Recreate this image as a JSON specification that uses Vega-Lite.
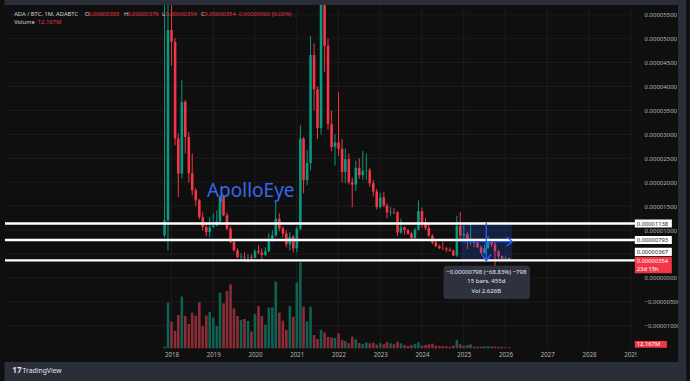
{
"$schema":"https://vega.github.io/schema/vega-lite/v6.json",
"width":690,"height":381,"autosize":{"type":"none"},"padding":0,
"background":"#0f0f0f",
"config":{"view":{"stroke":null},"font":"Noto Sans","text":{"font":"Noto Sans"}},
"datasets":{
"candles":[
{"t":"2017-11-01","o":891,"h":6600,"l":850,"c":1205,"v":137},
{"t":"2017-12-01","o":1205,"h":6600,"l":577,"c":5180,"v":3740},
{"t":"2018-01-01","o":5180,"h":6600,"l":4430,"c":4935,"v":2184},
{"t":"2018-02-01","o":4935,"h":5010,"l":2770,"c":2914,"v":1447},
{"t":"2018-03-01","o":2914,"h":3020,"l":1690,"c":2182,"v":2730},
{"t":"2018-04-01","o":2182,"h":4130,"l":2080,"c":3680,"v":4232},
{"t":"2018-05-01","o":3680,"h":3720,"l":2600,"c":2948,"v":2648},
{"t":"2018-06-01","o":2948,"h":3050,"l":2000,"c":2190,"v":1993},
{"t":"2018-07-01","o":2190,"h":2600,"l":1730,"c":1833,"v":2921},
{"t":"2018-08-01","o":1833,"h":1880,"l":1500,"c":1623,"v":2675},
{"t":"2018-09-01","o":1623,"h":1650,"l":1226,"c":1274,"v":3767},
{"t":"2018-10-01","o":1274,"h":1370,"l":996,"c":1065,"v":1829},
{"t":"2018-11-01","o":1065,"h":1160,"l":870,"c":960,"v":2675},
{"t":"2018-12-01","o":960,"h":1270,"l":850,"c":1058,"v":2976},
{"t":"2019-01-01","o":1058,"h":1350,"l":1050,"c":1100,"v":2512},
{"t":"2019-02-01","o":1100,"h":1410,"l":1080,"c":1184,"v":1829},
{"t":"2019-03-01","o":1184,"h":1730,"l":1120,"c":1692,"v":4559},
{"t":"2019-04-01","o":1692,"h":1730,"l":1290,"c":1310,"v":3686},
{"t":"2019-05-01","o":1310,"h":1370,"l":996,"c":1031,"v":4696},
{"t":"2019-06-01","o":1031,"h":1080,"l":724,"c":751,"v":5242},
{"t":"2019-07-01","o":751,"h":790,"l":556,"c":577,"v":3276},
{"t":"2019-08-01","o":577,"h":620,"l":410,"c":437,"v":2648},
{"t":"2019-09-01","o":437,"h":520,"l":368,"c":445,"v":2321},
{"t":"2019-10-01","o":445,"h":535,"l":347,"c":431,"v":2402},
{"t":"2019-11-01","o":431,"h":494,"l":326,"c":436,"v":2239},
{"t":"2019-12-01","o":436,"h":494,"l":368,"c":420,"v":1365},
{"t":"2020-01-01","o":420,"h":600,"l":410,"c":560,"v":2812},
{"t":"2020-02-01","o":560,"h":690,"l":500,"c":530,"v":3467},
{"t":"2020-03-01","o":530,"h":620,"l":368,"c":480,"v":2648},
{"t":"2020-04-01","o":480,"h":640,"l":452,"c":560,"v":1938},
{"t":"2020-05-01","o":560,"h":933,"l":540,"c":800,"v":3331},
{"t":"2020-06-01","o":800,"h":996,"l":760,"c":891,"v":3358},
{"t":"2020-07-01","o":891,"h":1588,"l":850,"c":1240,"v":5460},
{"t":"2020-08-01","o":1240,"h":1351,"l":975,"c":1038,"v":2921},
{"t":"2020-09-01","o":1038,"h":1080,"l":850,"c":927,"v":2266},
{"t":"2020-10-01","o":927,"h":996,"l":640,"c":700,"v":1502},
{"t":"2020-11-01","o":700,"h":960,"l":577,"c":860,"v":3467},
{"t":"2020-12-01","o":860,"h":900,"l":535,"c":620,"v":2594},
{"t":"2021-01-01","o":620,"h":1080,"l":535,"c":1030,"v":5405},
{"t":"2021-02-01","o":1030,"h":3191,"l":996,"c":2914,"v":7043},
{"t":"2021-03-01","o":2914,"h":2941,"l":1770,"c":2042,"v":3413},
{"t":"2021-04-01","o":2042,"h":2670,"l":1937,"c":2400,"v":2211},
{"t":"2021-05-01","o":2400,"h":5054,"l":2251,"c":4657,"v":3413},
{"t":"2021-06-01","o":4657,"h":4900,"l":3500,"c":3940,"v":1092},
{"t":"2021-07-01","o":3940,"h":4000,"l":2900,"c":3130,"v":764},
{"t":"2021-08-01","o":3130,"h":6600,"l":3000,"c":5900,"v":1502},
{"t":"2021-09-01","o":5900,"h":6600,"l":4300,"c":4850,"v":1310},
{"t":"2021-10-01","o":4850,"h":5000,"l":3100,"c":3214,"v":928},
{"t":"2021-11-01","o":3214,"h":3500,"l":2650,"c":2737,"v":874},
{"t":"2021-12-01","o":2737,"h":3000,"l":2350,"c":2829,"v":846},
{"t":"2022-01-01","o":2829,"h":3880,"l":2550,"c":2701,"v":1229},
{"t":"2022-02-01","o":2701,"h":2900,"l":2000,"c":2215,"v":683},
{"t":"2022-03-01","o":2215,"h":2700,"l":1980,"c":2481,"v":601},
{"t":"2022-04-01","o":2481,"h":2600,"l":1950,"c":2000,"v":410},
{"t":"2022-05-01","o":2000,"h":2100,"l":1480,"c":1950,"v":956},
{"t":"2022-06-01","o":1950,"h":2450,"l":1820,"c":2300,"v":737},
{"t":"2022-07-01","o":2300,"h":2500,"l":2070,"c":2146,"v":437},
{"t":"2022-08-01","o":2146,"h":2650,"l":2050,"c":2240,"v":355},
{"t":"2022-09-01","o":2240,"h":2600,"l":2050,"c":2250,"v":491},
{"t":"2022-10-01","o":2250,"h":2300,"l":1900,"c":1980,"v":410},
{"t":"2022-11-01","o":1980,"h":2050,"l":1700,"c":1805,"v":464},
{"t":"2022-12-01","o":1805,"h":1860,"l":1430,"c":1481,"v":300},
{"t":"2023-01-01","o":1481,"h":1780,"l":1450,"c":1686,"v":437},
{"t":"2023-02-01","o":1686,"h":1800,"l":1480,"c":1512,"v":328},
{"t":"2023-03-01","o":1512,"h":1560,"l":1250,"c":1369,"v":519},
{"t":"2023-04-01","o":1369,"h":1480,"l":1300,"c":1380,"v":410},
{"t":"2023-05-01","o":1380,"h":1460,"l":1330,"c":1370,"v":328},
{"t":"2023-06-01","o":1370,"h":1400,"l":880,"c":951,"v":546},
{"t":"2023-07-01","o":951,"h":1240,"l":920,"c":1060,"v":410},
{"t":"2023-08-01","o":1060,"h":1080,"l":900,"c":1002,"v":273},
{"t":"2023-09-01","o":1002,"h":1020,"l":900,"c":927,"v":191},
{"t":"2023-10-01","o":927,"h":960,"l":800,"c":837,"v":273},
{"t":"2023-11-01","o":837,"h":1050,"l":820,"c":1007,"v":355},
{"t":"2023-12-01","o":1007,"h":1620,"l":990,"c":1395,"v":491},
{"t":"2024-01-01","o":1395,"h":1470,"l":1050,"c":1151,"v":218},
{"t":"2024-02-01","o":1151,"h":1250,"l":1000,"c":1046,"v":273},
{"t":"2024-03-01","o":1046,"h":1150,"l":860,"c":884,"v":328},
{"t":"2024-04-01","o":884,"h":920,"l":700,"c":742,"v":382},
{"t":"2024-05-01","o":742,"h":780,"l":640,"c":666,"v":218},
{"t":"2024-06-01","o":666,"h":700,"l":600,"c":622,"v":191},
{"t":"2024-07-01","o":622,"h":750,"l":580,"c":619,"v":191},
{"t":"2024-08-01","o":619,"h":650,"l":540,"c":594,"v":164},
{"t":"2024-09-01","o":594,"h":640,"l":550,"c":568,"v":137},
{"t":"2024-10-01","o":568,"h":600,"l":460,"c":470,"v":218},
{"t":"2024-11-01","o":470,"h":1300,"l":440,"c":1089,"v":683},
{"t":"2024-12-01","o":1089,"h":1380,"l":800,"c":888,"v":328},
{"t":"2025-01-01","o":888,"h":1100,"l":800,"c":918,"v":218},
{"t":"2025-02-01","o":918,"h":960,"l":600,"c":759,"v":273},
{"t":"2025-03-01","o":759,"h":1170,"l":680,"c":800,"v":328},
{"t":"2025-04-01","o":800,"h":830,"l":640,"c":732,"v":137},
{"t":"2025-05-01","o":732,"h":800,"l":630,"c":640,"v":137},
{"t":"2025-06-01","o":640,"h":680,"l":500,"c":523,"v":137},
{"t":"2025-07-01","o":523,"h":700,"l":500,"c":622,"v":164},
{"t":"2025-08-01","o":622,"h":880,"l":600,"c":758,"v":191},
{"t":"2025-09-01","o":758,"h":800,"l":650,"c":702,"v":137},
{"t":"2025-10-01","o":702,"h":780,"l":230,"c":557,"v":137},
{"t":"2025-11-01","o":557,"h":580,"l":400,"c":454,"v":137},
{"t":"2025-12-01","o":454,"h":470,"l":380,"c":400,"v":109},
{"t":"2026-01-01","o":400,"h":450,"l":380,"c":412,"v":82},
{"t":"2026-02-01","o":412,"h":430,"l":340,"c":355,"v":82},
{"t":"2026-03-01","o":355,"h":376,"l":354,"c":354,"v":12.167}
],
"gridP":[{"p":-1000},{"p":-500},{"p":0},{"p":500},{"p":1000},{"p":1500},{"p":2000},{"p":2500},{"p":3000},{"p":3500},{"p":4000},{"p":4500},{"p":5000},{"p":5500}],
"gridT":[{"t":"2018-01-01"},{"t":"2019-01-01"},{"t":"2020-01-01"},{"t":"2021-01-01"},{"t":"2022-01-01"},{"t":"2023-01-01"},{"t":"2024-01-01"},{"t":"2025-01-01"},{"t":"2026-01-01"},{"t":"2027-01-01"},{"t":"2028-01-01"},{"t":"2029-01-01"}],
"levels":[{"p":1138},{"p":793},{"p":367}],
"measure":[{"t":"2024-12-01","t2":"2026-03-01","p":361,"p2":1159}],
"arrows":[
{"id":"vs","k":0,"t":"2025-07-17","p":1159},{"id":"vs","k":1,"t":"2025-07-17","p":361},
{"id":"vh","k":0,"t":"2025-06-05","p":500},{"id":"vh","k":1,"t":"2025-07-17","p":361},{"id":"vh","k":2,"t":"2025-08-28","p":500},
{"id":"hs","k":0,"t":"2024-12-01","p":760},{"id":"hs","k":1,"t":"2026-03-01","p":760},
{"id":"hh","k":0,"t":"2026-01-13","p":854},{"id":"hh","k":1,"t":"2026-03-01","p":760},{"id":"hh","k":2,"t":"2026-01-13","p":666}],
"tipbox":[{"t":"2024-07-08","t2":"2026-08-03","p":257,"p2":-439}],
"tiptext":[{"t":"2025-07-17","p":132,"s":"−0.00000798 (−68.83%) −798"},{"t":"2025-07-17","p":-73,"s":"15 bars, 455d"},{"t":"2025-07-17","p":-272,"s":"Vol 2.626B"}],
"tags":[{"p":1138,"lo":1055,"hi":1222,"s":"0.00001138"},{"p":793,"lo":710,"hi":877,"s":"0.00000793"},{"p":550,"lo":460,"hi":633,"s":"0.00000367"}],
"legendGray":[{"t":"2014-03-26","p":5515,"s":"ADA / BTC, 1M, ADABTC"},{"t":"2015-12-04","p":5515,"s":"O"},{"t":"2016-11-11","p":5515,"s":"H"},{"t":"2017-10-09","p":5515,"s":"L"},{"t":"2018-09-16","p":5515,"s":"C"},{"t":"2014-03-26","p":5337,"s":"Volume"}],
"legendRed":[{"t":"2016-01-01","p":5515,"s":"0.00000355"},{"t":"2016-12-09","p":5515,"s":"0.00000376"},{"t":"2017-11-08","p":5515,"s":"0.00000354"},{"t":"2018-10-15","p":5515,"s":"0.00000354"},{"t":"2019-08-12","p":5515,"s":"0.00000000 (0.00%)"},{"t":"2014-10-19","p":5337,"s":"12.167M"}]
},
"layer":[
{"data":{"name":"gridP"},"mark":{"type":"rule","color":"#1c1c1e","strokeWidth":1},
 "encoding":{
  "x":{"datum":{"year":2014,"month":1,"date":5,"utc":true},"type":"temporal","scale":{"type":"utc","domain":[1388880000000,1902873600000],"nice":false},"title":null,
   "axis":{"orient":"bottom","offset":-32,"values":[{"year":2018,"month":1,"date":1,"utc":true},{"year":2019,"month":1,"date":1,"utc":true},{"year":2020,"month":1,"date":1,"utc":true},{"year":2021,"month":1,"date":1,"utc":true},{"year":2022,"month":1,"date":1,"utc":true},{"year":2023,"month":1,"date":1,"utc":true},{"year":2024,"month":1,"date":1,"utc":true},{"year":2025,"month":1,"date":1,"utc":true},{"year":2026,"month":1,"date":1,"utc":true},{"year":2027,"month":1,"date":1,"utc":true},{"year":2028,"month":1,"date":1,"utc":true},{"year":2029,"month":1,"date":1,"utc":true}],
   "format":"%Y","labelPadding":2,"labelFontSize":6.2,"labelColor":"#b2b5be","labelFont":"Noto Sans","domain":false,"ticks":false,"grid":false,"labelFlush":false,"labelOverlap":false,"title":null}},
  "x2":{"datum":{"year":2029,"month":2,"date":5,"utc":true}},
  "y":{"field":"p","type":"quantitative","scale":{"domain":[-2152,5807],"nice":false,"zero":false},"title":null,
   "axis":{"orient":"right","offset":-47,"values":[-1000,-500,0,1000,1500,2000,2500,3000,3500,4000,4500,5000,5500],"labelExpr":"format(datum.value/1e8,'.8f')","labelAlign":"left","labelBaseline":"middle","labelPadding":1,"labelFontSize":6,"labelColor":"#b2b5be","labelFont":"Noto Sans","domain":false,"ticks":false,"grid":false,"labelOverlap":false,"title":null}}
 }},
{"data":{"name":"gridT"},"mark":{"type":"rule","color":"#1c1c1e","strokeWidth":1},
 "encoding":{
  "x":{"field":"t","type":"temporal","scale":{"type":"utc","domain":[1388880000000,1902873600000],"nice":false},"title":null},
  "y":{"datum":5703,"type":"quantitative","scale":{"domain":[-2152,5807],"nice":false,"zero":false},"axis":null},
  "y2":{"datum":-1483}
 }},
{"data":{"name":"candles"},"mark":{"type":"bar","size":2.6,"orient":"vertical"},
 "encoding":{
  "x":{"field":"t","type":"temporal","scale":{"type":"utc","domain":[1388880000000,1902873600000],"nice":false},"title":null},
  "y":{"field":"v","type":"quantitative","scale":{"domain":[-2678,28526],"nice":false,"zero":false},"axis":null},
  "color":{"condition":{"test":"datum.c >= datum.o","value":"#0f6152"},"value":"#8a2d37"}
 }},
{"data":{"name":"candles"},"mark":{"type":"rule","strokeWidth":1,"clip":true},
 "encoding":{
  "x":{"field":"t","type":"temporal","scale":{"type":"utc","domain":[1388880000000,1902873600000],"nice":false},"title":null},
  "y":{"field":"l","type":"quantitative","scale":{"domain":[-2152,5807],"nice":false,"zero":false},"axis":null},
  "y2":{"field":"h"},
  "color":{"condition":{"test":"datum.c >= datum.o","value":"#089981"},"value":"#f23645"}
 }},
{"data":{"name":"candles"},"mark":{"type":"bar","size":2.6,"orient":"vertical","clip":true},
 "encoding":{
  "x":{"field":"t","type":"temporal","scale":{"type":"utc","domain":[1388880000000,1902873600000],"nice":false},"title":null},
  "y":{"field":"o","type":"quantitative","scale":{"domain":[-2152,5807],"nice":false,"zero":false},"axis":null},
  "y2":{"field":"c"},
  "color":{"condition":{"test":"datum.c >= datum.o","value":"#089981"},"value":"#f23645"}
 }},
{"data":{"name":"measure"},"mark":{"type":"rect","color":"#2962ff","opacity":0.2},
 "encoding":{
  "x":{"field":"t","type":"temporal","scale":{"type":"utc","domain":[1388880000000,1902873600000],"nice":false},"title":null},
  "x2":{"field":"t2"},
  "y":{"field":"p","type":"quantitative","scale":{"domain":[-2152,5807],"nice":false,"zero":false},"axis":null},
  "y2":{"field":"p2"}
 }},
{"data":{"name":"levels"},"mark":{"type":"rule","color":"#ffffff","strokeWidth":2.4},
 "encoding":{
  "x":{"datum":{"year":2014,"month":1,"date":5,"utc":true},"type":"temporal","scale":{"type":"utc","domain":[1388880000000,1902873600000],"nice":false},"title":null},
  "x2":{"datum":{"year":2029,"month":2,"date":5,"utc":true}},
  "y":{"field":"p","type":"quantitative","scale":{"domain":[-2152,5807],"nice":false,"zero":false},"axis":null}
 }},
{"data":{"name":"arrows"},"mark":{"type":"line","color":"#2962ff","strokeWidth":1.3},
 "encoding":{
  "x":{"field":"t","type":"temporal","scale":{"type":"utc","domain":[1388880000000,1902873600000],"nice":false},"title":null},
  "y":{"field":"p","type":"quantitative","scale":{"domain":[-2152,5807],"nice":false,"zero":false},"axis":null},
  "detail":{"field":"id"},
  "order":{"field":"k"}
 }},
{"data":{"values":[{"t":"2018-11-07","p":1700,"s":"ApolloEye"}]},"mark":{"type":"text","align":"left","baseline":"alphabetic","fontSize":19,"color":"#3467ee","font":"Noto Sans"},
 "encoding":{
  "x":{"field":"t","type":"temporal","scale":{"type":"utc","domain":[1388880000000,1902873600000],"nice":false},"title":null},
  "y":{"field":"p","type":"quantitative","scale":{"domain":[-2152,5807],"nice":false,"zero":false},"axis":null},
  "text":{"field":"s"}
 }},
{"data":{"name":"tipbox"},"mark":{"type":"rect","color":"#2e323e","cornerRadius":3},
 "encoding":{
  "x":{"field":"t","type":"temporal","scale":{"type":"utc","domain":[1388880000000,1902873600000],"nice":false},"title":null},
  "x2":{"field":"t2"},
  "y":{"field":"p","type":"quantitative","scale":{"domain":[-2152,5807],"nice":false,"zero":false},"axis":null},
  "y2":{"field":"p2"}
 }},
{"data":{"name":"tiptext"},"mark":{"type":"text","align":"center","baseline":"middle","fontSize":6,"color":"#e6e8ee"},
 "encoding":{
  "x":{"field":"t","type":"temporal","scale":{"type":"utc","domain":[1388880000000,1902873600000],"nice":false},"title":null},
  "y":{"field":"p","type":"quantitative","scale":{"domain":[-2152,5807],"nice":false,"zero":false},"axis":null},
  "text":{"field":"s"}
 }},
{"data":{"values":[{}]},"mark":{"type":"rect","color":"#2a2e39"},
 "encoding":{
  "x":{"datum":{"year":2014,"month":1,"date":1,"utc":true},"type":"temporal","scale":{"type":"utc","domain":[1388880000000,1902873600000],"nice":false},"title":null},
  "x2":{"datum":{"year":2030,"month":5,"date":1,"utc":true}},
  "y":{"datum":5703,"type":"quantitative","scale":{"domain":[-2152,5807],"nice":false,"zero":false},"axis":null},
  "y2":{"datum":5900}
 }},
{"data":{"values":[{}]},"mark":{"type":"rect","color":"#2a2e39"},
 "encoding":{
  "x":{"datum":{"year":2014,"month":1,"date":1,"utc":true},"type":"temporal","scale":{"type":"utc","domain":[1388880000000,1902873600000],"nice":false},"title":null},
  "x2":{"datum":{"year":2030,"month":5,"date":1,"utc":true}},
  "y":{"datum":-1755,"type":"quantitative","scale":{"domain":[-2152,5807],"nice":false,"zero":false},"axis":null},
  "y2":{"datum":-2300}
 }},
{"data":{"values":[{}]},"mark":{"type":"rect","color":"#2a2e39"},
 "encoding":{
  "x":{"datum":{"year":2030,"month":2,"date":18,"utc":true},"type":"temporal","scale":{"type":"utc","domain":[1388880000000,1902873600000],"nice":false},"title":null},
  "x2":{"datum":{"year":2030,"month":5,"date":1,"utc":true}},
  "y":{"datum":-2300,"type":"quantitative","scale":{"domain":[-2152,5807],"nice":false,"zero":false},"axis":null},
  "y2":{"datum":5900}
 }},
{"data":{"values":[{}]},"mark":{"type":"rect","color":"#0f0f0f"},
 "encoding":{
  "x":{"datum":{"year":2029,"month":2,"date":22,"utc":true},"type":"temporal","scale":{"type":"utc","domain":[1388880000000,1902873600000],"nice":false},"title":null},
  "x2":{"datum":{"year":2030,"month":2,"date":18,"utc":true}},
  "y":{"datum":-1483,"type":"quantitative","scale":{"domain":[-2152,5807],"nice":false,"zero":false},"axis":null},
  "y2":{"datum":-1755}
 }},
{"data":{"name":"tags"},"mark":{"type":"rect","color":"#ffffff"},
 "encoding":{
  "x":{"datum":{"year":2029,"month":2,"date":5,"utc":true},"type":"temporal","scale":{"type":"utc","domain":[1388880000000,1902873600000],"nice":false},"title":null},
  "x2":{"datum":{"year":2029,"month":12,"date":26,"utc":true}},
  "y":{"field":"lo","type":"quantitative","scale":{"domain":[-2152,5807],"nice":false,"zero":false},"axis":null},
  "y2":{"field":"hi"}
 }},
{"data":{"name":"tags"},"mark":{"type":"text","align":"left","baseline":"middle","fontSize":5.8,"color":"#131722"},
 "encoding":{
  "x":{"datum":{"year":2029,"month":2,"date":22,"utc":true},"type":"temporal","scale":{"type":"utc","domain":[1388880000000,1902873600000],"nice":false},"title":null},
  "y":{"field":"p","type":"quantitative","scale":{"domain":[-2152,5807],"nice":false,"zero":false},"axis":null},
  "text":{"field":"s"}
 }},
{"data":{"values":[{}]},"mark":{"type":"rect","color":"#f23645"},
 "encoding":{
  "x":{"datum":{"year":2029,"month":2,"date":5,"utc":true},"type":"temporal","scale":{"type":"utc","domain":[1388880000000,1902873600000],"nice":false},"title":null},
  "x2":{"datum":{"year":2029,"month":12,"date":26,"utc":true}},
  "y":{"datum":98,"type":"quantitative","scale":{"domain":[-2152,5807],"nice":false,"zero":false},"axis":null},
  "y2":{"datum":445}
 }},
{"data":{"values":[{}]},"mark":{"type":"rect","color":"#f23645"},
 "encoding":{
  "x":{"datum":{"year":2029,"month":2,"date":5,"utc":true},"type":"temporal","scale":{"type":"utc","domain":[1388880000000,1902873600000],"nice":false},"title":null},
  "x2":{"datum":{"year":2029,"month":11,"date":13,"utc":true}},
  "y":{"datum":-1456,"type":"quantitative","scale":{"domain":[-2152,5807],"nice":false,"zero":false},"axis":null},
  "y2":{"datum":-1316}
 }},
{"data":{"values":[{"p":350,"s":"0.00000354"},{"p":182,"s":"23d 15h"},{"p":-1387,"s":"12.167M"}]},"mark":{"type":"text","align":"left","baseline":"middle","fontSize":5.8,"color":"#ffffff"},
 "encoding":{
  "x":{"datum":{"year":2029,"month":2,"date":22,"utc":true},"type":"temporal","scale":{"type":"utc","domain":[1388880000000,1902873600000],"nice":false},"title":null},
  "y":{"field":"p","type":"quantitative","scale":{"domain":[-2152,5807],"nice":false,"zero":false},"axis":null},
  "text":{"field":"s"}
 }},
{"data":{"name":"legendGray"},"mark":{"type":"text","align":"left","baseline":"middle","fontSize":5.8,"color":"#d1d4dc"},
 "encoding":{
  "x":{"field":"t","type":"temporal","scale":{"type":"utc","domain":[1388880000000,1902873600000],"nice":false},"title":null},
  "y":{"field":"p","type":"quantitative","scale":{"domain":[-2152,5807],"nice":false,"zero":false},"axis":null},
  "text":{"field":"s"}
 }},
{"data":{"name":"legendRed"},"mark":{"type":"text","align":"left","baseline":"middle","fontSize":5.8,"color":"#f23645"},
 "encoding":{
  "x":{"field":"t","type":"temporal","scale":{"type":"utc","domain":[1388880000000,1902873600000],"nice":false},"title":null},
  "y":{"field":"p","type":"quantitative","scale":{"domain":[-2152,5807],"nice":false,"zero":false},"axis":null},
  "text":{"field":"s"}
 }},
{"data":{"values":[{"t":"2014-06-08","p":-1943,"s":"TradingView"}]},"mark":{"type":"text","align":"left","baseline":"middle","fontSize":6.8,"color":"#e0e3eb"},
 "encoding":{
  "x":{"field":"t","type":"temporal","scale":{"type":"utc","domain":[1388880000000,1902873600000],"nice":false},"title":null},
  "y":{"field":"p","type":"quantitative","scale":{"domain":[-2152,5807],"nice":false,"zero":false},"axis":null},
  "text":{"field":"s"}
 }},
{"data":{"values":[{"t":"2014-03-10","p":-1943,"s":"17"}]},"mark":{"type":"text","align":"left","baseline":"middle","fontSize":8,"fontWeight":"bold","color":"#e0e3eb"},
 "encoding":{
  "x":{"field":"t","type":"temporal","scale":{"type":"utc","domain":[1388880000000,1902873600000],"nice":false},"title":null},
  "y":{"field":"p","type":"quantitative","scale":{"domain":[-2152,5807],"nice":false,"zero":false},"axis":null},
  "text":{"field":"s"}
 }}
],
"resolve":{"scale":{"y":"independent"}}
}
